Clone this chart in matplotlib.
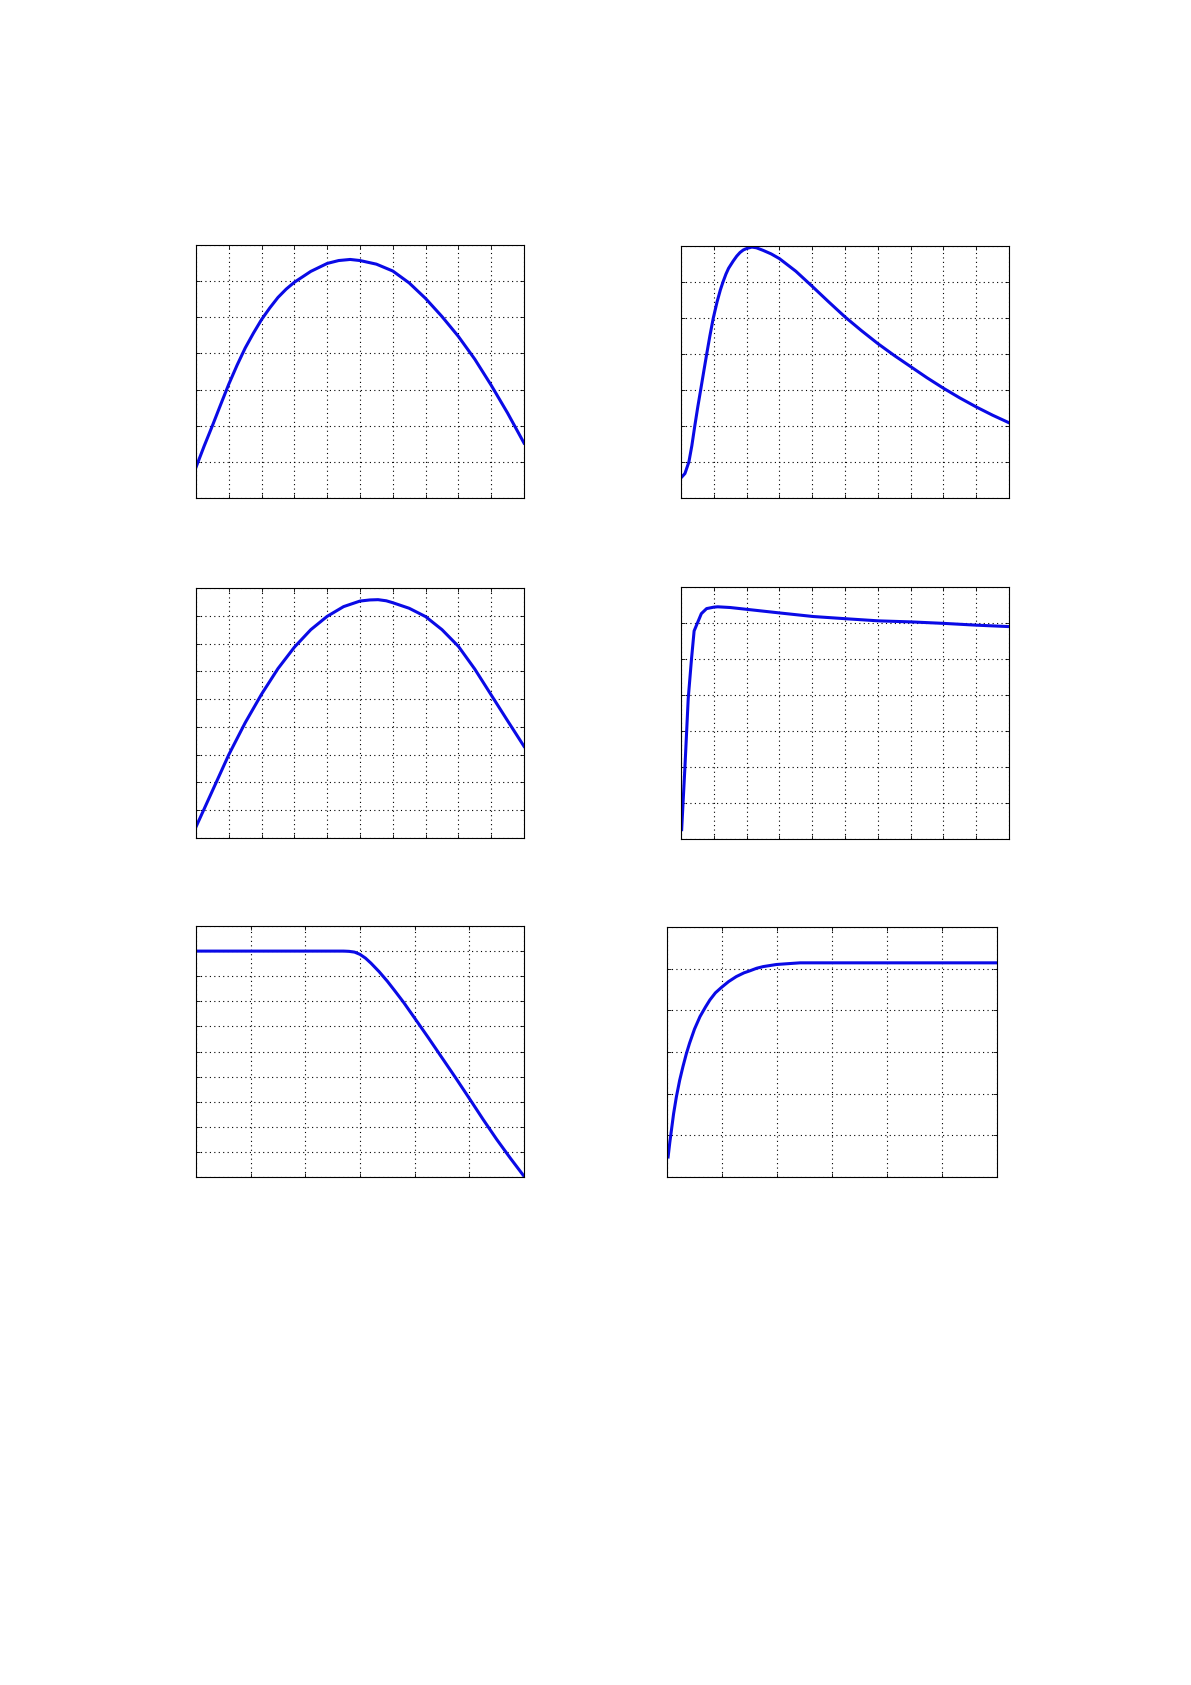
import numpy as np
import matplotlib
matplotlib.use("Agg")
import matplotlib.pyplot as plt

# values (grid units, no labels on the axes)
x1 = [0, 0.25, 0.5, 0.75, 1.0, 1.25, 1.5, 1.75, 2.0, 2.25, 2.5, 2.75, 3.0, 3.5, 4.0, 4.35, 4.7, 5.0, 5.5, 6.0, 6.5, 7.0, 7.5, 8.0, 8.5, 9.0, 9.5, 10]
y1 = [0.85, 1.44, 2.0, 2.58, 3.15, 3.67, 4.15, 4.56, 4.94, 5.26, 5.55, 5.78, 5.97, 6.27, 6.49, 6.57, 6.60, 6.57, 6.47, 6.28, 5.95, 5.52, 5.02, 4.47, 3.84, 3.12, 2.35, 1.52]

x2 = [0, 0.12, 0.24, 0.33, 0.42, 0.51, 0.61, 0.7, 0.78, 0.88, 0.98, 1.1, 1.2, 1.28, 1.37, 1.45, 1.59, 1.7, 1.8, 1.9, 2.0, 2.16, 2.3, 2.5, 2.75, 3.0, 3.5, 4.0, 4.5, 5.0, 5.5, 6.0, 6.5, 7.0, 7.5, 8.0, 8.5, 9.0, 9.5, 10]
y2 = [0.56, 0.68, 1.0, 1.45, 2.0, 2.52, 3.06, 3.55, 3.98, 4.5, 4.98, 5.45, 5.78, 6.0, 6.22, 6.38, 6.58, 6.72, 6.82, 6.89, 6.93, 6.97, 6.95, 6.88, 6.78, 6.65, 6.3, 5.88, 5.45, 5.03, 4.65, 4.29, 3.96, 3.65, 3.34, 3.05, 2.78, 2.53, 2.3, 2.09]

x3 = [0, 0.25, 0.5, 0.75, 1.0, 1.5, 2.0, 2.5, 3.0, 3.5, 4.0, 4.5, 5.0, 5.3, 5.55, 5.8, 6.0, 6.5, 7.0, 7.5, 8.0, 8.5, 9.0, 9.5, 10]
y3 = [0.4, 1.05, 1.7, 2.35, 3.0, 4.15, 5.18, 6.1, 6.87, 7.5, 7.98, 8.33, 8.53, 8.57, 8.58, 8.54, 8.47, 8.27, 7.97, 7.5, 6.9, 6.08, 5.15, 4.22, 3.3]

# this one is drawn with coarse straight segments in the reference
x4 = [0.02, 0.12, 0.22, 0.32, 0.4, 0.62, 0.78, 1.0, 1.12, 1.5, 2.0, 3.0, 4.03, 5.0, 6.01, 7.03, 8.0, 9.0, 10]
y4 = [0.26, 2.0, 3.9, 5.0, 5.78, 6.26, 6.4, 6.44, 6.45, 6.43, 6.38, 6.28, 6.18, 6.12, 6.06, 6.03, 5.99, 5.94, 5.90]

x5 = [0, 1.0, 2.0, 2.7, 2.8, 2.9, 3.0, 3.1, 3.2, 3.35, 3.5, 3.65, 3.8, 4.0, 4.25, 4.5, 4.75, 5.0, 5.25, 5.5, 5.75, 6.0]
y5 = [9.0, 9.0, 9.0, 9.0, 8.99, 8.96, 8.87, 8.72, 8.52, 8.18, 7.8, 7.38, 6.95, 6.33, 5.55, 4.75, 3.95, 3.13, 2.3, 1.5, 0.75, 0.03]

x6 = [0.02, 0.05, 0.08, 0.12, 0.17, 0.23, 0.29, 0.35, 0.41, 0.5, 0.6, 0.7, 0.78, 0.88, 0.99, 1.12, 1.26, 1.4, 1.51, 1.63, 1.75, 1.99, 2.2, 2.42, 3.0, 4.0, 5.0, 6.0]
y6 = [0.48, 0.82, 1.12, 1.52, 1.92, 2.32, 2.65, 2.95, 3.21, 3.55, 3.85, 4.08, 4.25, 4.42, 4.55, 4.69, 4.81, 4.9, 4.95, 5.01, 5.05, 5.1, 5.12, 5.14, 5.14, 5.14, 5.14, 5.14]

series = [(x1, y1), (x2, y2), (x3, y3), (x4, y4), (x5, y5), (x6, y6)]
# xmax, ymax in grid divisions
limits = [(10, 7), (10, 7), (10, 9), (10, 7), (6, 10), (6, 6)]

W, H = 1191, 1685
# pixel boxes: left, top, right, bottom
boxes = [(196, 245, 524, 498), (681, 246, 1009, 498),
         (196, 588, 524, 838), (681, 587, 1009, 839),
         (196, 926, 524, 1177), (667, 927, 997, 1177)]

fig = plt.figure(figsize=(W / 100, H / 100), dpi=100)

for (xs, ys), (xm, ym), (l, t, r, b) in zip(series, limits, boxes):
    ax = fig.add_axes([l / W, 1 - b / H, (r - l) / W, (b - t) / H])
    ax.plot(xs, ys, color="#0a0ae6", lw=2.2, solid_joinstyle="round")
    ax.set_xlim(0, xm)
    ax.set_ylim(0, ym)
    ax.set_xticks(np.arange(0, xm + 1))
    ax.set_yticks(np.arange(0, ym + 1))
    ax.set_xticklabels([])
    ax.set_yticklabels([])
    ax.tick_params(direction="in", length=3, width=0.6, top=True, right=True)
    ax.grid(True, color="black", linestyle=(0, (1, 3)), linewidth=0.8)
    for s in ax.spines.values():
        s.set_linewidth(0.8)

fig.savefig("out.png", dpi=100)
